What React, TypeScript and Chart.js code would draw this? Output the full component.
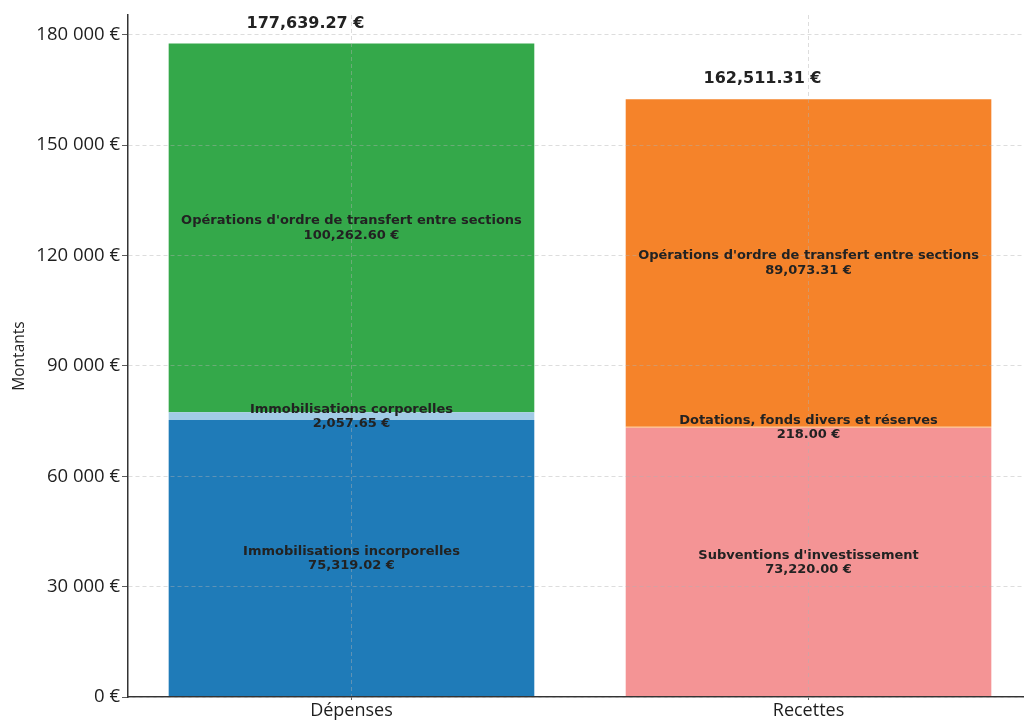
import React, { useEffect, useRef } from "react";
import { Chart, registerables } from "chart.js";

Chart.register(...registerables);

const categories = ["Dépenses", "Recettes"];
const depensesLabels = [
  "Immobilisations incorporelles",
  "Immobilisations corporelles",
  "Opérations d'ordre de transfert entre sections",
];
const depensesValues = [75319.02, 2057.65, 100262.6];
const depensesColors = ["#1f7bb8", "#a2cbe6", "#34a84a"];
const recettesLabels = [
  "Subventions d'investissement",
  "Dotations, fonds divers et réserves",
  "Opérations d'ordre de transfert entre sections",
];
const recettesValues = [73220.0, 218.0, 89073.31];
const recettesColors = ["#f49495", "#ffbb78", "#f5832a"];
const yTicks = [0, 30000, 60000, 90000, 120000, 150000, 180000];

const fmtMoney = (v: number) =>
  v.toLocaleString("en-US", { minimumFractionDigits: 2, maximumFractionDigits: 2 }) + " €";
const fmtTick = (v: number) =>
  Math.round(v).toString().replace(/\B(?=(\d{3})+(?!\d))/g, " ") + " €";

export default function App() {
  const ref = useRef<HTMLCanvasElement | null>(null);
  useEffect(() => {
    const canvas = ref.current!;
    const datasets: any[] = [];
    depensesValues.forEach((v, i) =>
      datasets.push({
        label: depensesLabels[i],
        data: [{ x: 0, y: v }],
        backgroundColor: depensesColors[i],
        barPercentage: 0.8,
        categoryPercentage: 1,
      })
    );
    recettesValues.forEach((v, i) =>
      datasets.push({
        label: recettesLabels[i],
        data: [{ x: 1, y: v }],
        backgroundColor: recettesColors[i],
        barPercentage: 0.8,
        categoryPercentage: 1,
      })
    );
    const totals = [
      depensesValues.reduce((a, b) => a + b, 0),
      recettesValues.reduce((a, b) => a + b, 0),
    ];
    const labelPlugin = {
      id: "labels",
      afterDraw(chart: any) {
        const ctx = chart.ctx;
        ctx.save();
        ctx.fillStyle = "#222";
        ctx.textAlign = "center";
        ctx.textBaseline = "middle";
        ctx.font = "bold 13px 'DejaVu Sans'";
        chart.data.datasets.forEach((ds: any, di: number) => {
          const meta = chart.getDatasetMeta(di);
          const el = meta.data[0];
          if (!el) return;
          const cy = (el.y + el.base) / 2;
          ctx.fillText(ds.label, el.x, cy - 7);
          ctx.fillText(fmtMoney(ds.data[0].y), el.x, cy + 7.5);
        });
        ctx.font = "bold 16px 'DejaVu Sans'";
        const xs = chart.scales.x;
        const ys = chart.scales.y;
        totals.forEach((t, i) => {
          ctx.fillText(fmtMoney(t), xs.getPixelForValue(i) - 46, ys.getPixelForValue(t) - 20);
        });
        ctx.restore();
      },
    };
    const chart = new Chart(canvas, {
      type: "bar",
      data: { datasets },
      plugins: [labelPlugin],
      options: {
        animation: false,
        responsive: false,
        devicePixelRatio: 1,
        layout: { padding: { top: 15, right: 8, left: 0, bottom: 0 } },
        plugins: { legend: { display: false }, tooltip: { enabled: false } },
        scales: {
          x: {
            type: "linear",
            min: -0.489,
            max: 1.489,
            offset: false,
            stacked: true,
            afterBuildTicks: (s: any) => {
              s.ticks = categories.map((_, i) => ({ value: i }));
            },
            afterFit: (s: any) => {
              s.height = 24;
            },
            ticks: {
              callback: (v: any) => categories[v as number] ?? "",
              color: "#1e1e1e",
              font: { family: "'Open Sans'", size: 18 },
              padding: 0,
              maxRotation: 0,
              autoSkip: false,
            },
            grid: {
              offset: false,
              color: "rgba(176,176,176,0.55)",
              lineWidth: 0.8,
              tickLength: 3,
              tickColor: "#333",
              z: 1,
            },
            border: { display: true, color: "#333", width: 1.5, dash: [4, 3], z: 1 },
          },
          y: {
            type: "linear",
            min: 0,
            max: 185400,
            stacked: true,
            afterBuildTicks: (s: any) => {
              s.ticks = yTicks.map((v) => ({ value: v }));
            },
            afterFit: (s: any) => {
              s.width = 128;
            },
            ticks: {
              callback: (v: any) => fmtTick(v as number),
              color: "#1e1e1e",
              font: { family: "'Open Sans'", size: 18.5 },
              padding: 2,
            },
            title: {
              display: true,
              text: "Montants",
              color: "#1e1e1e",
              font: { family: "'Open Sans'", size: 15.5 },
              padding: { top: 10, bottom: 0 },
            },
            grid: {
              color: "rgba(176,176,176,0.55)",
              lineWidth: 0.8,
              tickLength: 6,
              tickColor: "#333",
              z: 1,
            },
            border: { display: true, color: "#333", width: 1.5, dash: [4, 3], z: 1 },
          },
        },
      },
    } as any);
    return () => chart.destroy();
  }, []);
  return (
    <div
      style={{
        position: "fixed",
        left: 0,
        top: 0,
        width: 1024,
        height: 721,
        overflow: "hidden",
        background: "#fff",
      }}
    >
      <canvas ref={ref} width={1040} height={721} style={{ width: 1040, height: 721, display: "block" }} />
    </div>
  );
}
